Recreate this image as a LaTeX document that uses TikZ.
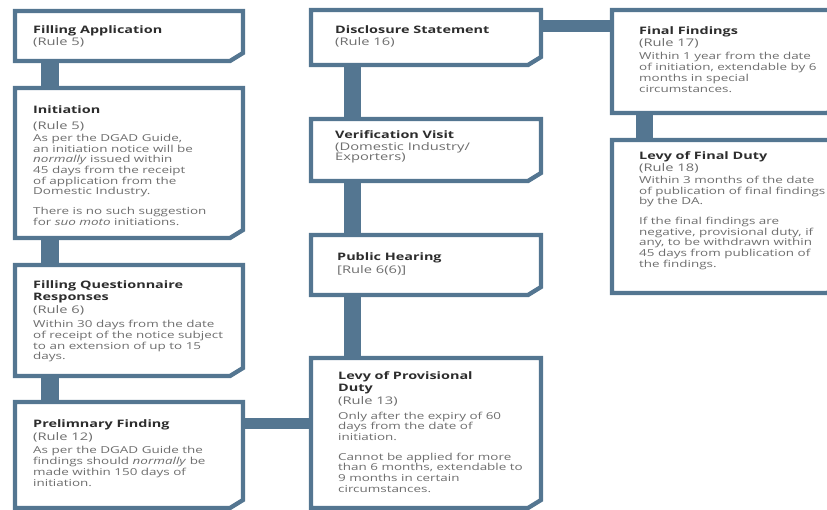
\documentclass[tikz,border=0pt]{standalone}
\usepackage{fontspec}
\setmainfont[FakeStretch=1.4]{Open Sans}
\usetikzlibrary{positioning,calc}
\definecolor{framecolor}{RGB}{84,118,145}
\definecolor{titlecolor}{RGB}{45,45,45}
\definecolor{bodycolor}{RGB}{110,110,110}
\newcommand{\ttl}[1]{{\fontsize{10.3}{12.7}\selectfont\bfseries\color{titlecolor}#1}}
\newcommand{\rl}[1]{{\fontsize{10.5}{12.7}\selectfont #1}}

\begin{document}
\begin{tikzpicture}[x=1pt, y=-1pt,
        box/.style={rectangle, inner sep=0pt, outer sep=0pt},
        col1/.style={box, minimum width=228pt},
        col2/.style={box, minimum width=230pt},
        col3/.style={box, minimum width=228pt},
        frame/.style={draw=framecolor, fill=white, line width=4.3pt, line join=miter},
        vbar/.style={draw=framecolor, line width=17.5pt},
        hbar/.style={draw=framecolor, line width=11.5pt},
        txt/.style={anchor=north west, align=left, inner sep=0pt, text=bodycolor,
            font=\fontsize{9.6}{10.7}\selectfont}
    ]
        \clip (0,0) rectangle (827,510);

        % Left column
        \node[col1, minimum height=50pt] (fa) at (129,36) {};
        \node[col1, minimum height=150pt] (ini) at (129,163) {};
        \node[col1, minimum height=111pt] (fqr) at (129,320.5) {};
        \node[col1, minimum height=106pt] (pf) at (129,455) {};

        % Middle column
        \node[col2, minimum height=55pt] (ds) at (426,37.5) {};
        \node[col2, minimum height=62pt] (vv) at (426,150) {};
        \node[col2, minimum height=60pt] (ph) at (426,265) {};
        \node[col2, minimum height=150pt] (lpd) at (426,433) {};

        % Right column
        \node[col3, minimum height=103pt] (ff) at (726,61.5) {};
        \node[col3, minimum height=153pt] (lfd) at (726,216.5) {};

        % Connecting bars
        \draw[vbar] ([xshift=35pt]fa.south west) -- ([xshift=35pt]ini.north west);
        \draw[vbar] ([xshift=35pt]ini.south west) -- ([xshift=35pt]fqr.north west);
        \draw[vbar] ([xshift=35pt]fqr.south west) -- ([xshift=35pt]pf.north west);
        \draw[vbar] ([xshift=41.5pt]ds.south west) -- ([xshift=41.5pt]vv.north west);
        \draw[vbar] ([xshift=41.5pt]vv.south west) -- ([xshift=41.5pt]ph.north west);
        \draw[vbar] ([xshift=41.5pt]ph.south west) -- ([xshift=41.5pt]lpd.north west);
        \draw[vbar] ([xshift=32.5pt]ff.south west) -- ([xshift=32.5pt]lfd.north west);
        \draw[hbar] ([yshift=-21.5pt]pf.north east) -- ([yshift=-21.5pt]pf.north east -| lpd.west);
        \draw[hbar] ([yshift=-16pt]ds.north east) -- ([yshift=-16pt]ds.north east -| ff.west);

        % Frames with cut corner
        \foreach \b in {fa,ini,fqr,pf,ds,vv,ph,lpd,ff,lfd}
            \draw[frame] (\b.north west) -- (\b.north east) -- ([yshift=8pt]\b.south east)
                -- ([xshift=-13pt]\b.south east) -- (\b.south west) -- cycle;

        % Texts
        \node[txt, below right=14.5pt and 18pt of fa.north west] (fa-t)
            {\ttl{Filling Application}\\[1pt] \rl{(Rule 5)}};
        \node[txt, below right=17.5pt and 18pt of ini.north west] (ini-t)
            {\ttl{Initiation}\\[5pt] \rl{(Rule 5)}\\[1.5pt]
             As per the DGAD Guide,\\ an initiation notice will be\\
             \textit{normally} issued within\\ 45 days from the receipt\\
             of application from the\\ Domestic Industry.\\[9pt]
             There is no such suggestion\\ for \textit{suo moto} initiations.};
        \node[txt, below right=15.5pt and 18pt of fqr.north west] (fqr-t)
            {\ttl{Filling Questionnaire}\\[1.5pt] \ttl{Responses}\\[2pt] \rl{(Rule 6)}\\[3.5pt]
             Within 30 days from the date\\ of receipt of the notice subject\\
             to an extension of up to 15\\ days.};
        \node[txt, below right=17.5pt and 18pt of pf.north west] (pf-t)
            {\ttl{Prelimnary Finding}\\[2pt] \rl{(Rule 12)}\\[3pt]
             As per the DGAD Guide the\\ findings should \textit{normally} be\\
             made within 150 days of\\ initiation.};
        \node[txt, below right=15.5pt and 24pt of ds.north west] (ds-t)
            {\ttl{Disclosure Statement}\\[1.5pt] \rl{(Rule 16)}};
        \node[txt, below right=11.5pt and 24pt of vv.north west] (vv-t)
            {\ttl{Verification Visit}\\[1pt] \rl{(Domestic Industry/}\\ \rl{Exporters)}};
        \node[txt, below right=17.5pt and 26pt of ph.north west] (ph-t)
            {\ttl{Public Hearing}\\[2pt] \rl{[Rule 6(6)]}};
        \node[txt, below right=13.5pt and 27pt of lpd.north west] (lpd-t)
            {\ttl{Levy of Provisional}\\[1pt] \ttl{Duty}\\[3pt] \rl{(Rule 13)}\\[3.5pt]
             Only after the expiry of 60\\ days from the date of\\ initiation.\\[9pt]
             Cannot be applied for more\\ than 6 months, extendable to\\
             9 months in certain\\ circumstances.};
        \node[txt, below right=16.5pt and 27pt of ff.north west] (ff-t)
            {\ttl{Final Findings}\\[1pt] \rl{(Rule 17)}\\[3pt]
             Within 1 year from the date\\ of initiation, extendable by 6\\
             months in special\\ circumstances.};
        \node[txt, below right=11.5pt and 27pt of lfd.north west] (lfd-t)
            {\ttl{Levy of Final Duty}\\[1pt] \rl{(Rule 18)}\\[1.5pt]
             Within 3 months of the date\\ of publication of final findings\\
             by the DA.\\[9pt]
             If the final findings are\\ negative, provisional duty, if\\
             any, to be withdrawn within\\ 45 days from publication of\\
             the findings.};
    \end{tikzpicture}
\end{document}
